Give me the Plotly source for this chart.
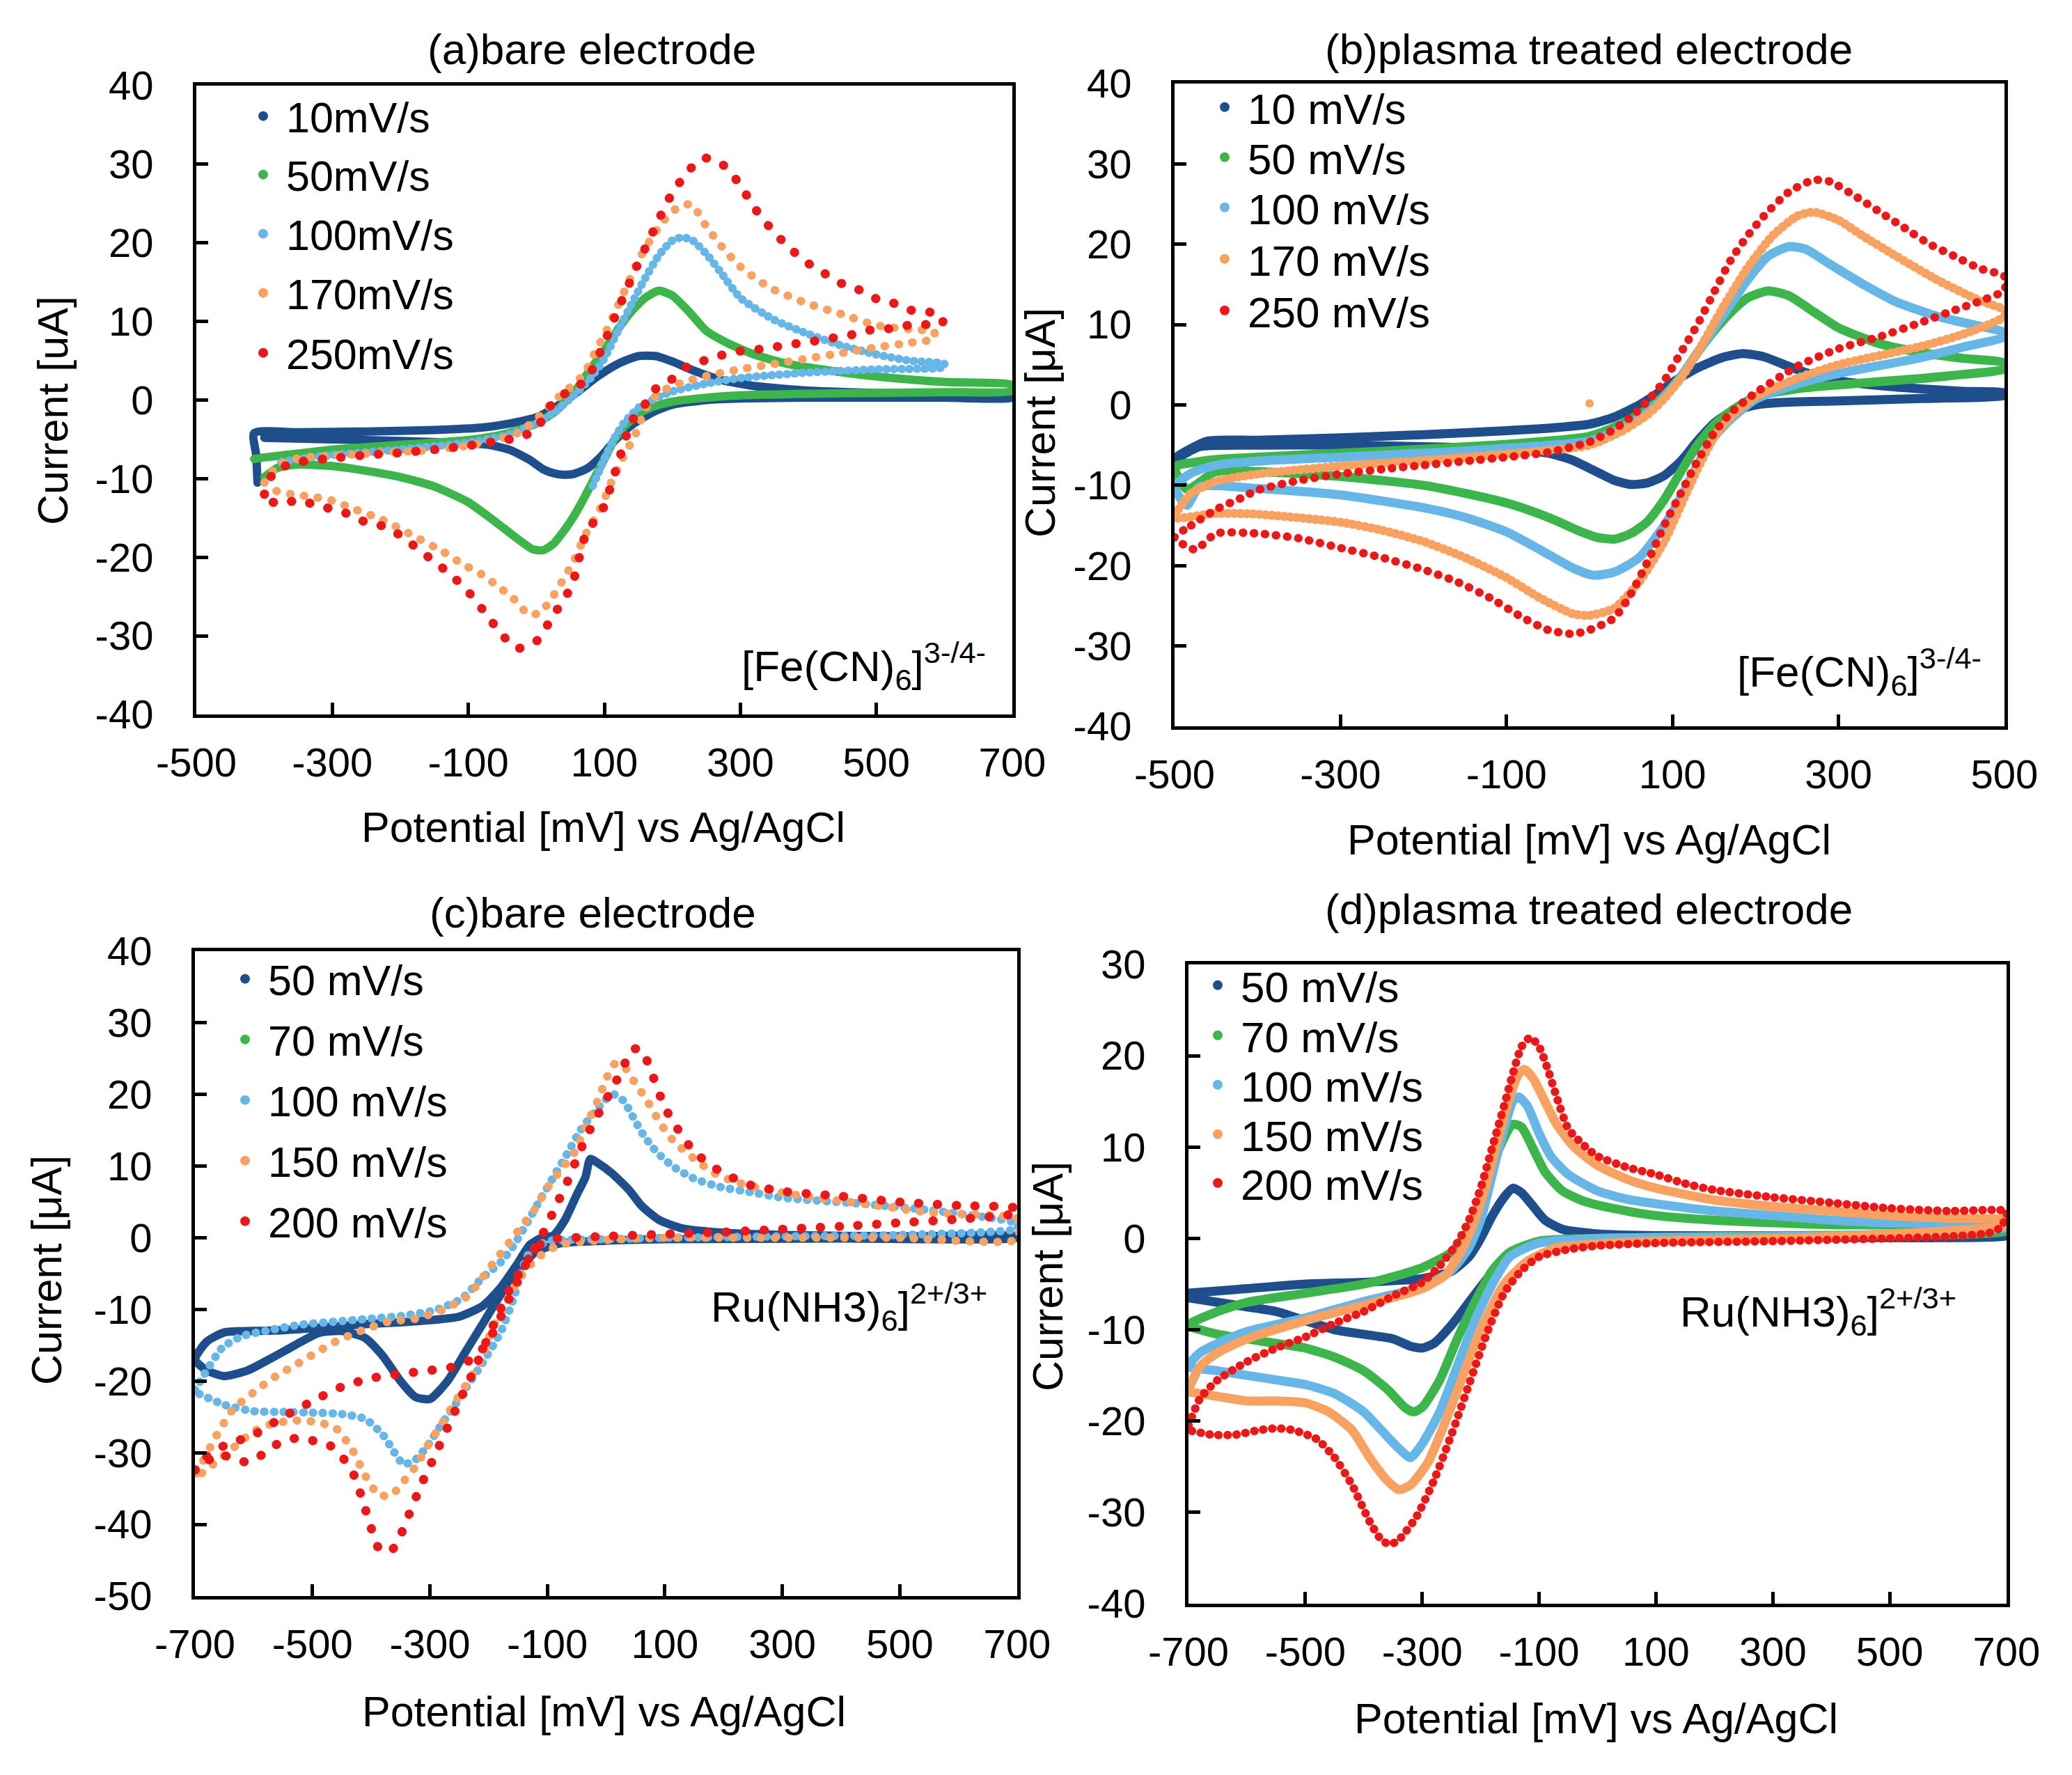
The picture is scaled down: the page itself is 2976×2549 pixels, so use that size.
import plotly.graph_objects as go

W, H = 2976, 2549          # screenshot size
OFF = 8                    # page body margin of the html page
FW, FH = W - 2 * OFF, H - 2 * OFF
FONT = "Liberation Sans, Arial, Helvetica, sans-serif"

# ======================= DATA =======================
# ---- panel (a) bare electrode, [Fe(CN)6]3-/4- ----
a_labels = ["10mV/s", "50mV/s", "100mV/s", "170mV/s", "250mV/s"]
a_xticks = [-500, -300, -100, 100, 300, 500, 700]
a_yticks = [-40, -30, -20, -10, 0, 10, 20, 30, 40]

a10_up_x = [-410, -412, -415, -350, -250, -150, -80, -40, 0, 30, 60, 90, 120, 150, 175, 200, 230, 270, 320, 400, 500, 600, 700]
a10_up_y = [-10.5, -7.0, -4.2, -4.1, -4.0, -3.8, -3.5, -3.0, -2.2, -0.8, 1.0, 3.0, 4.6, 5.6, 5.6, 4.9, 3.8, 2.6, 1.8, 1.2, 0.9, 0.7, 0.6]
a10_dn_x = [700, 600, 500, 400, 300, 250, 200, 170, 140, 115, 95, 75, 55, 40, 25, 10, -10, -40, -70, -100, -200, -300, -400]
a10_dn_y = [0.3, 0.3, 0.3, 0.3, 0.2, 0.0, -0.6, -1.6, -3.2, -5.2, -7.2, -8.7, -9.4, -9.5, -9.3, -8.8, -7.6, -6.3, -5.7, -5.5, -5.2, -5.0, -4.8]

a50_up_x = [-415, -400, -350, -300, -200, -100, -50, 0, 30, 60, 80, 100, 120, 140, 160, 180, 200, 225, 250, 280, 320, 370, 420, 500, 600, 700]
a50_up_y = [-7.5, -7.3, -6.8, -6.3, -5.7, -5.1, -4.4, -3.0, -1.3, 1.5, 4.0, 6.3, 9.0, 11.3, 13.0, 13.9, 13.3, 11.2, 8.8, 7.3, 5.8, 4.6, 3.9, 3.0, 2.3, 1.9]
a50_dn_x = [700, 600, 500, 400, 300, 250, 200, 170, 150, 130, 115, 100, 85, 70, 55, 40, 25, 10, -5, -30, -60, -100, -150, -200, -250, -300, -350, -380, -400]
a50_dn_y = [1.2, 1.0, 0.9, 0.8, 0.6, 0.3, -0.2, -0.9, -1.8, -3.3, -5.0, -7.5, -10.0, -12.5, -14.8, -16.7, -18.3, -19.1, -19.0, -17.5, -15.5, -13.0, -11.0, -9.8, -9.0, -8.4, -8.2, -8.6, -9.8]

a100_up_x = [-375, -350, -300, -200, -100, -50, 0, 30, 60, 80, 100, 120, 140, 160, 180, 200, 215, 230, 250, 270, 300, 350, 400, 450, 500, 550, 600]
a100_up_y = [-7.9, -7.5, -7.0, -6.3, -5.4, -4.6, -3.0, -1.3, 1.0, 2.8, 5.3, 8.8, 12.2, 15.5, 18.4, 20.3, 20.7, 20.3, 18.6, 16.4, 13.0, 10.2, 8.4, 6.9, 5.8, 5.0, 4.6]
a100_dn_x = [600, 500, 400, 300, 250, 200, 170, 150, 130, 115, 100, 90, 80]
a100_dn_y = [4.2, 3.9, 3.5, 2.8, 2.1, 1.1, 0.0, -1.0, -2.8, -4.8, -7.5, -9.5, -11.5]

a170_up_x = [-400, -380, -350, -300, -230, -160, -100, -60, -25, 5, 25, 48, 70, 86, 103, 120, 136, 153, 170, 187, 208, 228, 250, 272, 297, 322, 348, 398, 450, 500, 550, 585]
a170_up_y = [-10.5, -8.3, -7.4, -7.1, -6.7, -6.4, -5.8, -5.1, -4.1, -2.0, -0.2, 1.5, 3.3, 6.0, 8.8, 12.0, 15.1, 18.2, 20.7, 22.8, 24.5, 24.9, 22.1, 19.6, 17.2, 15.5, 14.1, 12.3, 10.9, 9.5, 9.0, 8.7]
a170_dn_x = [585, 550, 500, 450, 400, 350, 305, 263, 229, 204, 180, 162, 145, 128, 110, 94, 73, 56, 39, 22, 5, -12, -33, -58, -80, -110, -135, -180, -227, -270, -300, -330, -360, -385, -400]
a170_dn_y = [7.8, 7.3, 6.7, 6.0, 5.3, 4.6, 4.0, 3.3, 2.6, 1.9, 0.9, -0.9, -4.5, -7.2, -10.5, -13.8, -17.0, -20.3, -22.9, -25.3, -27.1, -27.2, -25.3, -23.6, -22.2, -20.8, -19.4, -17.3, -15.2, -13.8, -12.8, -12.3, -12.0, -11.5, -11.0]

a250_up_x = [-400, -385, -350, -300, -250, -200, -150, -100, -50, -24, 1, 22, 48, 73, 98, 120, 145, 172, 197, 223, 246, 272, 297, 322, 348, 373, 398, 424, 447, 473, 496, 521, 546, 572, 597]
a250_up_y = [-12.0, -9.0, -7.9, -7.4, -7.0, -6.7, -6.3, -5.8, -5.1, -4.8, -3.5, -0.6, 1.2, 2.5, 6.9, 11.5, 16.5, 21.5, 25.9, 29.1, 30.8, 30.1, 27.7, 24.3, 21.5, 19.3, 17.5, 16.1, 14.9, 14.1, 13.0, 12.5, 11.5, 11.3, 10.7]
a250_dn_x = [597, 572, 546, 521, 496, 473, 447, 424, 398, 373, 348, 322, 297, 272, 246, 223, 197, 172, 158, 140, 123, 98, 73, 52, 22, 1, -28, -50, -75, -100, -126, -151, -176, -202, -227, -252, -273, -299, -324, -349, -375, -400]
a250_dn_y = [9.7, 9.6, 9.5, 9.1, 9.0, 8.5, 8.0, 7.8, 7.3, 7.1, 6.7, 6.4, 6.2, 5.7, 5.0, 4.3, 2.5, 1.2, -0.8, -2.7, -7.2, -13.8, -17.0, -23.6, -27.8, -30.6, -31.6, -29.9, -27.1, -24.4, -22.2, -20.5, -18.8, -17.1, -16.0, -15.5, -14.6, -13.9, -13.4, -12.7, -13.2, -12.7]

# ---- panel (b) plasma treated electrode, [Fe(CN)6]3-/4- ----
b_labels = ["10 mV/s", "50 mV/s", "100 mV/s", "170 mV/s", "250 mV/s"]
b_xticks = [-500, -300, -100, 100, 300, 500]
b_yticks = [-40, -30, -20, -10, 0, 10, 20, 30, 40]

b10_up_x = [-500, -495, -460, -400, -300, -200, -100, -50, 0, 30, 60, 80, 100, 130, 160, 185, 210, 240, 270, 300, 350, 400, 450, 500]
b10_up_y = [-6.8, -6.3, -4.5, -4.4, -4.1, -3.7, -3.2, -2.9, -2.4, -1.5, 0.0, 1.3, 2.8, 4.6, 5.9, 6.4, 6.0, 4.8, 3.7, 3.0, 2.4, 2.0, 1.7, 1.5]
b10_dn_x = [500, 400, 300, 230, 200, 170, 150, 130, 110, 90, 70, 50, 30, 10, -20, -50, -100, -200, -300, -400, -470, -500]
b10_dn_y = [1.2, 0.8, 0.5, 0.3, 0.0, -0.9, -2.3, -4.5, -7.0, -8.8, -9.7, -9.9, -9.4, -8.4, -6.9, -6.0, -5.5, -5.2, -5.0, -5.0, -5.2, -6.8]

b50_up_x = [-500, -480, -450, -400, -300, -200, -100, 0, 40, 70, 90, 110, 130, 150, 170, 190, 215, 240, 270, 300, 350, 400, 450, 500]
b50_up_y = [-7.7, -7.2, -6.8, -6.5, -6.0, -5.5, -4.9, -3.9, -2.3, -0.5, 1.2, 3.5, 6.5, 9.2, 11.5, 13.3, 14.2, 13.6, 11.6, 9.6, 7.6, 6.5, 5.8, 5.2]
b50_dn_x = [500, 450, 400, 300, 250, 200, 170, 150, 130, 110, 90, 70, 50, 30, 10, -10, -40, -70, -100, -150, -200, -300, -400, -450, -485, -500]
b50_dn_y = [4.5, 3.8, 3.3, 2.5, 2.0, 1.0, -0.8, -2.5, -5.0, -8.3, -11.8, -14.5, -16.0, -16.7, -16.5, -15.8, -14.4, -13.2, -12.2, -11.0, -10.0, -8.9, -8.3, -8.3, -10.5, -7.7]

b100_up_x = [-500, -480, -450, -400, -300, -200, -100, 0, 40, 70, 90, 110, 130, 160, 190, 215, 240, 260, 290, 330, 370, 420, 470, 500]
b100_up_y = [-10.2, -8.5, -7.5, -7.0, -6.5, -6.0, -5.4, -4.5, -2.8, -0.9, 1.0, 3.5, 6.5, 11.0, 15.5, 18.5, 19.7, 19.4, 17.5, 15.0, 12.8, 11.0, 9.8, 9.0]
b100_dn_x = [500, 450, 400, 300, 250, 200, 170, 150, 130, 110, 90, 60, 30, 5, -20, -60, -100, -150, -200, -300, -400, -470, -485, -500]
b100_dn_y = [8.5, 7.2, 5.9, 3.9, 2.6, 0.7, -1.8, -4.0, -7.5, -11.5, -15.0, -19.0, -20.8, -21.2, -20.3, -18.0, -15.8, -14.0, -12.8, -11.2, -10.4, -10.2, -12.5, -10.2]

b170_up_x = [-500, -480, -450, -400, -300, -200, -100, 0, 40, 70, 90, 110, 130, 160, 190, 220, 250, 270, 300, 330, 370, 420, 470, 500]
b170_up_y = [-14.0, -11.0, -9.5, -8.6, -7.6, -6.9, -6.1, -5.0, -3.2, -1.2, 0.8, 3.3, 6.5, 12.0, 17.0, 21.0, 23.5, 24.0, 23.0, 21.0, 18.5, 15.5, 13.0, 11.8]
b170_dn_x = [500, 450, 400, 300, 250, 200, 170, 150, 130, 110, 90, 60, 30, 0, -20, -60, -100, -150, -200, -250, -300, -400, -450, -500]
b170_dn_y = [11.0, 8.8, 7.3, 5.0, 3.3, 1.0, -1.5, -4.0, -8.0, -12.5, -17.0, -22.0, -25.3, -26.2, -26.0, -24.0, -21.5, -19.0, -17.0, -15.6, -14.6, -13.6, -13.5, -14.0]
b170_stray_x = [0]
b170_stray_y = [0.2]

b250_up_x = [-500, -480, -450, -420, -400, -350, -300, -250, -200, -150, -100, -50, 0, 30, 50, 70, 90, 110, 130, 150, 170, 190, 210, 240, 270, 290, 320, 350, 380, 410, 440, 470, 500]
b250_up_y = [-16.5, -15.0, -13.0, -11.6, -10.6, -9.4, -8.6, -8.0, -7.5, -7.0, -6.5, -5.9, -4.6, -3.0, -1.5, 0.5, 3.0, 6.5, 10.0, 14.0, 18.0, 21.0, 23.5, 26.5, 28.0, 27.8, 26.0, 24.0, 22.0, 20.0, 18.5, 17.0, 16.0]
b250_dn_x = [500, 470, 440, 400, 350, 300, 250, 200, 170, 150, 130, 110, 90, 70, 50, 30, 0, -20, -50, -80, -120, -160, -200, -250, -300, -350, -400, -450, -475, -500]
b250_dn_y = [14.3, 12.9, 11.8, 10.3, 8.5, 7.0, 4.8, 1.5, -1.0, -3.5, -7.0, -11.0, -15.0, -19.5, -23.5, -26.5, -28.0, -28.5, -28.0, -26.5, -24.0, -22.0, -20.5, -19.0, -17.8, -16.6, -16.0, -16.0, -18.0, -16.5]

# ---- panel (c) bare electrode, Ru(NH3)6 2+/3+ ----
c_labels = ["50 mV/s", "70 mV/s", "100 mV/s", "150 mV/s", "200 mV/s"]
c_xticks = [-700, -500, -300, -100, 100, 300, 500, 700]
c_yticks = [-50, -40, -30, -20, -10, 0, 10, 20, 30, 40]

c50_up_x = [-700, -680, -650, -600, -550, -500, -450, -400, -350, -300, -250, -210, -180, -150, -130, -110, -90, -70, -50, -35, -27, -15, 10, 40, 60, 90, 130, 200, 300, 500, 700]
c50_up_y = [-17.0, -14.5, -13.2, -13.0, -12.9, -12.6, -12.3, -12.0, -11.8, -11.5, -11.0, -9.5, -7.0, -3.5, -1.0, 0.0, 0.3, 2.5, 6.0, 8.5, 11.0, 10.5, 9.0, 6.6, 4.5, 2.5, 1.3, 0.7, 0.4, 0.2, 0.2]
c50_dn_x = [700, 400, 100, 0, -80, -120, -150, -180, -210, -240, -270, -300, -325, -350, -380, -410, -450, -490, -530, -570, -610, -650, -680, -700]
c50_dn_y = [0.0, -0.1, -0.2, -0.4, -0.8, -2.0, -4.5, -8.0, -12.0, -16.0, -20.0, -22.5, -22.2, -20.0, -16.5, -14.0, -13.0, -13.3, -15.0, -16.8, -18.5, -19.3, -18.5, -17.0]

# the 70 mV/s series is not visible in the figure (hidden under 100 mV/s)
c70_x = [None]
c70_y = [None]

c100_up_x = [-700, -686, -653, -619, -574, -517, -461, -404, -348, -291, -246, -212, -178, -156, -133, -111, -88, -65, -43, -20, 2, 14, 30, 47, 64, 87, 115, 149, 194, 251, 300, 443, 556, 700]
c100_up_y = [-21.3, -19.3, -15.3, -13.7, -12.9, -12.1, -11.7, -11.3, -10.9, -10.1, -8.5, -5.7, -3.3, -0.9, 2.3, 5.5, 8.7, 11.9, 15.1, 17.5, 19.5, 20.0, 19.1, 16.7, 14.3, 11.9, 9.9, 8.3, 7.1, 6.3, 5.6, 4.7, 3.8, 2.0]
c100_dn_x = [700, 500, 300, 100, 0, -100, -130, -145, -156, -178, -212, -235, -257, -280, -303, -325, -345, -360, -380, -410, -450, -500, -550, -600, -650, -700]
c100_dn_y = [1.3, 0.4, 0.2, 0.0, -0.2, -0.5, -2.0, -4.9, -8.1, -12.9, -17.7, -20.5, -23.3, -26.0, -28.9, -31.0, -31.6, -30.0, -27.5, -25.3, -24.6, -24.4, -24.3, -24.2, -23.3, -21.5]

c150_up_x = [-700, -685, -664, -636, -596, -562, -528, -495, -461, -415, -370, -325, -280, -235, -212, -190, -167, -145, -122, -99, -77, -54, -32, -15, 2, 15, 30, 47, 70, 93, 115, 149, 183, 217, 273, 330, 443, 556, 668, 700]
c150_up_y = [-33.5, -31.0, -27.7, -24.0, -21.3, -19.3, -17.7, -16.1, -14.5, -12.9, -11.7, -11.3, -10.1, -8.1, -5.7, -3.3, -0.9, 1.5, 3.9, 7.1, 9.5, 11.9, 16.0, 19.0, 22.5, 24.3, 24.0, 21.9, 19.1, 15.9, 13.5, 11.1, 9.1, 7.9, 6.7, 5.9, 4.7, 3.5, 3.1, 2.7]
c150_dn_x = [700, 500, 300, 100, 0, -80, -120, -150, -170, -195, -212, -235, -257, -280, -303, -325, -348, -365, -387, -410, -432, -461, -495, -530, -570, -600, -630, -660, -700]
c150_dn_y = [-0.2, 0.0, 0.0, 0.0, -0.3, -1.0, -3.0, -6.0, -9.0, -12.9, -16.9, -20.1, -22.9, -26.0, -28.9, -32.0, -34.3, -35.9, -35.9, -33.2, -29.6, -26.5, -25.7, -25.5, -26.0, -27.0, -29.0, -31.0, -33.5]

c200_up_x = [-700, -680, -650, -600, -550, -500, -450, -400, -350, -300, -260, -230, -205, -185, -165, -145, -125, -105, -85, -65, -45, -25, -5, 15, 30, 45, 60, 80, 100, 125, 150, 190, 240, 300, 400, 500, 600, 700]
c200_up_y = [-32.5, -30.5, -29.0, -27.5, -25.0, -22.8, -20.8, -19.6, -19.0, -18.5, -18.0, -17.0, -15.0, -12.0, -8.5, -5.0, -2.0, 1.0, 4.5, 8.0, 12.0, 15.5, 18.5, 21.5, 24.0, 26.3, 26.3, 22.5, 18.2, 14.8, 12.0, 9.5, 7.5, 6.5, 5.8, 5.0, 4.5, 4.1]
c200_dn_x = [700, 600, 500, 400, 300, 200, 100, 0, -60, -100, -120, -140, -160, -180, -200, -225, -245, -270, -295, -315, -335, -350, -365, -385, -400, -415, -430, -450, -470, -500, -530, -560, -590, -610, -630, -660, -700]
c200_dn_y = [3.5, 2.6, 2.1, 1.6, 1.2, 0.8, 0.5, 0.2, 0.0, -0.3, -1.5, -4.0, -6.5, -10.0, -13.7, -18.5, -22.0, -26.5, -31.0, -34.5, -38.5, -41.5, -43.6, -43.6, -40.5, -36.5, -33.0, -30.5, -29.0, -28.3, -28.0, -28.8, -30.5, -31.3, -31.0, -30.2, -32.5]

# ---- panel (d) plasma treated electrode, Ru(NH3)6 2+/3+ ----
d_labels = ["50 mV/s", "70 mV/s", "100 mV/s", "150 mV/s", "200 mV/s"]
d_xticks = [-700, -500, -300, -100, 100, 300, 500, 700]
d_yticks = [-40, -30, -20, -10, 0, 10, 20, 30]

d50_up_x = [-700, -600, -500, -400, -300, -250, -220, -200, -180, -160, -145, -130, -110, -90, -60, 0, 100, 300, 500, 700]
d50_up_y = [-6.0, -5.5, -5.0, -4.8, -4.4, -3.6, -2.0, 0.0, 2.5, 4.5, 5.5, 5.0, 3.5, 2.0, 1.0, 0.5, 0.3, 0.3, 0.3, 0.5]
d50_dn_x = [700, 400, 100, -50, -100, -130, -160, -190, -220, -250, -280, -300, -320, -350, -400, -450, -500, -550, -600, -650, -700]
d50_dn_y = [0.3, 0.1, 0.0, -0.1, -0.4, -1.0, -2.5, -4.5, -7.0, -9.5, -11.5, -12.0, -11.8, -11.0, -10.5, -10.0, -9.0, -8.0, -7.5, -7.0, -6.5]

d70_up_x = [-700, -650, -600, -500, -400, -350, -300, -250, -220, -200, -180, -160, -145, -130, -110, -90, -60, -20, 50, 100, 200, 400, 700]
d70_up_y = [-9.5, -8.0, -7.0, -6.0, -5.0, -4.2, -3.2, -1.5, 1.0, 4.0, 8.0, 11.0, 12.5, 12.2, 9.8, 7.3, 5.2, 4.0, 3.0, 2.5, 2.0, 1.5, 1.2]
d70_dn_x = [700, 300, 0, -100, -150, -180, -210, -240, -270, -300, -315, -330, -360, -400, -450, -500, -550, -600, -650, -700]
d70_dn_y = [0.8, 0.3, 0.0, -0.3, -1.5, -3.5, -7.0, -11.0, -15.5, -18.5, -19.0, -18.5, -16.5, -14.5, -13.0, -12.0, -11.5, -11.0, -10.5, -9.5]

d100_up_x = [-700, -680, -650, -600, -500, -400, -300, -250, -220, -200, -180, -160, -145, -135, -120, -100, -80, -50, 0, 50, 100, 200, 300, 400, 500, 700]
d100_up_y = [-14.0, -12.5, -11.5, -10.2, -8.7, -6.9, -5.3, -3.5, -1.0, 2.0, 7.0, 12.0, 15.0, 15.5, 14.5, 11.5, 9.0, 7.0, 5.2, 4.3, 3.8, 3.0, 2.5, 2.0, 1.7, 1.5]
d100_dn_x = [700, 400, 0, -100, -150, -180, -210, -240, -270, -300, -320, -340, -370, -400, -450, -500, -550, -600, -650, -700]
d100_dn_y = [1.2, 0.3, 0.0, -0.5, -2.0, -5.0, -9.0, -14.0, -19.0, -22.5, -24.0, -23.0, -21.0, -19.0, -17.0, -16.0, -15.5, -15.0, -14.5, -14.0]

d150_up_x = [-700, -680, -650, -600, -500, -400, -300, -260, -230, -210, -190, -170, -150, -135, -125, -110, -90, -70, -40, 0, 50, 100, 200, 300, 400, 500, 600, 700]
d150_up_y = [-16.5, -14.0, -12.5, -11.0, -9.0, -7.3, -5.5, -4.0, -1.0, 2.0, 6.0, 11.0, 15.5, 18.0, 18.5, 17.5, 15.0, 12.5, 10.0, 8.0, 6.5, 5.5, 4.2, 3.5, 3.0, 2.5, 2.2, 2.0]
d150_dn_x = [700, 500, 300, 100, 0, -70, -120, -160, -200, -230, -260, -290, -320, -340, -360, -390, -420, -460, -500, -550, -600, -650, -700]
d150_dn_y = [1.5, 0.5, 0.0, -0.3, -0.6, -1.0, -2.5, -5.0, -10.0, -15.0, -20.0, -24.5, -27.0, -27.5, -26.5, -24.0, -21.0, -19.0, -18.0, -17.8, -17.8, -17.3, -16.8]

d200_up_x = [-700, -680, -650, -600, -550, -500, -450, -400, -350, -300, -270, -240, -220, -200, -180, -160, -145, -130, -115, -100, -85, -70, -50, -20, 0, 50, 100, 150, 200, 300, 400, 500, 600, 700]
d200_up_y = [-20.5, -17.5, -15.5, -13.5, -12.0, -10.8, -9.3, -8.0, -6.3, -4.8, -3.0, -0.5, 2.0, 5.5, 10.0, 14.5, 18.0, 21.0, 22.0, 21.0, 18.5, 15.5, 12.0, 10.0, 9.0, 7.8, 7.0, 6.0, 5.3, 4.5, 3.9, 3.3, 3.0, 3.0]
d200_dn_x = [700, 690, 670, 600, 500, 300, 100, 0, -50, -100, -130, -160, -190, -220, -250, -280, -310, -340, -355, -370, -390, -420, -450, -480, -520, -550, -580, -620, -660, -700]
d200_dn_y = [2.5, 1.2, 0.6, 0.2, 0.0, -0.3, -0.5, -0.8, -1.2, -2.0, -3.5, -6.0, -10.5, -16.0, -21.5, -26.5, -30.5, -33.0, -33.5, -33.0, -31.0, -27.0, -24.0, -22.0, -21.0, -20.8, -21.0, -21.5, -21.5, -21.0]

# ======================= STYLE / LAYOUT =======================
COLORS = ["#1f4e8c", "#3cb54a", "#66b6e8", "#f9a160", "#ee1717"]


def dots(spacing):
    # round-capped near-zero dashes -> round dots 'spacing' px apart
    return "0.5px,%gpx" % (spacing - 0.5)


panels = [
    dict(ax="", labels=a_labels,
         series=[(a10_up_x + a10_dn_x, a10_up_y + a10_dn_y),
                 (a50_up_x + a50_dn_x, a50_up_y + a50_dn_y),
                 (a100_up_x + a100_dn_x, a100_up_y + a100_dn_y),
                 (a170_up_x + a170_dn_x, a170_up_y + a170_dn_y),
                 (a250_up_x + a250_dn_x, a250_up_y + a250_dn_y)],
         styles=[(12, "solid"), (12, "solid"), (12, dots(11)), (12, dots(20)), (13, dots(27))],
         box=(282, 123, 1454, 1026), xr=[-500, 700], yr=[-40, 40], xt=a_xticks, yt=a_yticks,
         leg=dict(mx=378, rows=[167, 251, 336, 421, 507], fs=61)),
    dict(ax="2", labels=b_labels,
         series=[(b10_up_x + b10_dn_x, b10_up_y + b10_dn_y),
                 (b50_up_x + b50_dn_x, b50_up_y + b50_dn_y),
                 (b100_up_x + b100_dn_x, b100_up_y + b100_dn_y),
                 (b170_up_x + b170_dn_x, b170_up_y + b170_dn_y),
                 (b250_up_x + b250_dn_x, b250_up_y + b250_dn_y)],
         styles=[(13, "solid"), (13, "solid"), (13, "solid"), (13, dots(9)), (12, dots(16))],
         box=(1687, 120, 2879, 1043), xr=[-500, 500], yr=[-40, 40], xt=b_xticks, yt=b_yticks,
         leg=dict(mx=1759, rows=[154, 226, 298, 372, 446], fs=62)),
    dict(ax="3", labels=c_labels,
         series=[(c50_up_x + c50_dn_x, c50_up_y + c50_dn_y),
                 (c70_x, c70_y),
                 (c100_up_x + c100_dn_x, c100_up_y + c100_dn_y),
                 (c150_up_x + c150_dn_x, c150_up_y + c150_dn_y),
                 (c200_up_x + c200_dn_x, c200_up_y + c200_dn_y)],
         styles=[(12, "solid"), (12, "solid"), (12, dots(14)), (12, dots(20)), (13, dots(27))],
         box=(280, 1366, 1461, 2292), xr=[-700, 700], yr=[-50, 40], xt=c_xticks, yt=c_yticks,
         leg=dict(mx=352, rows=[1406, 1493, 1580, 1667, 1754], fs=61)),
    dict(ax="4", labels=d_labels,
         series=[(d50_up_x + d50_dn_x, d50_up_y + d50_dn_y),
                 (d70_up_x + d70_dn_x, d70_up_y + d70_dn_y),
                 (d100_up_x + d100_dn_x, d100_up_y + d100_dn_y),
                 (d150_up_x + d150_dn_x, d150_up_y + d150_dn_y),
                 (d200_up_x + d200_dn_x, d200_up_y + d200_dn_y)],
         styles=[(13, "solid"), (13, "solid"), (13, "solid"), (13, "solid"), (12, dots(13))],
         box=(1707, 1385, 2882, 2303), xr=[-700, 700], yr=[-40, 30], xt=d_xticks, yt=d_yticks,
         leg=dict(mx=1749, rows=[1415, 1487, 1558, 1629, 1699], fs=62)),
]


def PX(x):
    return (x - OFF) / FW


def PY(y):
    return 1 - (y - OFF) / FH


fig = go.Figure()
layout = dict(width=FW, height=FH, autosize=False,
              margin=dict(l=0, r=0, t=0, b=0, pad=0, autoexpand=False),
              paper_bgcolor="white", plot_bgcolor="white", showlegend=True,
              font=dict(family=FONT, size=58, color="black"))

ITEMW = 56
leg_k = 0
for p in panels:
    xa, ya = "x" + p["ax"], "y" + p["ax"]
    # data traces (drawn in order: slowest scan rate first, fastest on top)
    for i, ((xs, ys), (lw, dash)) in enumerate(zip(p["series"], p["styles"])):
        fig.add_trace(go.Scatter(x=xs, y=ys, mode="lines", xaxis=xa, yaxis=ya,
                                 line=dict(color=COLORS[i], width=lw, dash=dash,
                                           shape="spline", smoothing=0.6),
                                 showlegend=False, hoverinfo="skip"))
        if p["ax"] == "2" and i == 3:
            fig.add_trace(go.Scatter(x=b170_stray_x, y=b170_stray_y, mode="markers",
                                     xaxis=xa, yaxis=ya, showlegend=False, hoverinfo="skip",
                                     marker=dict(color=COLORS[i], size=12)))
    # legend entries (one legend per row to match the original spacing)
    lg = p["leg"]
    for i, lab in enumerate(p["labels"]):
        leg_k += 1
        key = "legend" if leg_k == 1 else "legend%d" % leg_k
        fig.add_trace(go.Scatter(x=[None], y=[None], mode="markers", name=lab,
                                 xaxis=xa, yaxis=ya, legend=key,
                                 marker=dict(color=COLORS[i], size=14)))
        layout[key] = dict(x=PX(lg["mx"] - (ITEMW / 2 + 5)), xanchor="left",
                           y=PY(lg["rows"][i]), yanchor="middle",
                           bgcolor="rgba(0,0,0,0)", borderwidth=0, itemwidth=ITEMW,
                           font=dict(family=FONT, size=lg["fs"], color="black"),
                           itemclick=False, itemdoubleclick=False)
    x0, y0, x1, y1 = p["box"]
    axcommon = dict(showline=True, linecolor="black", linewidth=5, mirror=True,
                    ticks="inside", ticklen=17, tickwidth=5, tickcolor="black",
                    showgrid=False, zeroline=False, automargin=False,
                    tickfont=dict(family=FONT, size=58, color="black"))
    layout["xaxis" + p["ax"]] = dict(axcommon, domain=[PX(x0), PX(x1)], range=p["xr"],
                                     anchor="y" + p["ax"], tickmode="array",
                                     tickvals=p["xt"], ticktext=[str(v) for v in p["xt"]],
                                     ticklabelstandoff=14)
    layout["yaxis" + p["ax"]] = dict(axcommon, domain=[PY(y1), PY(y0)], range=p["yr"],
                                     anchor="x" + p["ax"], tickmode="array",
                                     tickvals=p["yt"], ticktext=[str(v) for v in p["yt"]],
                                     ticklabelstandoff=45)


def ann(text, x, y, size, xanchor="center", angle=0):
    return dict(text=text, x=PX(x), y=PY(y), xref="paper", yref="paper", showarrow=False,
                xanchor=xanchor, yanchor="middle", textangle=angle,
                font=dict(family=FONT, size=size, color="black"))


XT = "Potential [mV] vs Ag/AgCl"
FE = "[Fe(CN)<sub>6</sub>]<sup>3-/4-</sup>"
RU = "Ru(NH3)<sub>6</sub>]<sup>2+/3+</sup>"
layout["annotations"] = [
    ann("(a)bare electrode", 850, 70, 62),
    ann("(b)plasma treated electrode", 2282, 70, 62),
    ann("(c)bare electrode", 851, 1310, 62),
    ann("(d)plasma treated electrode", 2282, 1306, 62),
    ann(XT, 866, 1188, 61), ann(XT, 2282, 1206, 61),
    ann(XT, 867, 2458, 61), ann(XT, 2292, 2468, 61),
    ann("Current [uA]", 76, 590, 61, angle=-90),
    ann("Current [μA]", 1494, 607, 61, angle=-90),
    ann("Current [μA]", 67, 1824, 61, angle=-90),
    ann("Current [μA]", 1505, 1833, 61, angle=-90),
    ann(FE, 1418, 957, 62, xanchor="right"),
    ann(FE, 2848, 965, 62, xanchor="right"),
    ann(RU, 1420, 1876, 62, xanchor="right"),
    ann(RU, 2812, 1883, 62, xanchor="right"),
]

fig.update_layout(**layout)

ROUND_CAPS = """
var gd = document.getElementById('{plot_id}');
gd.querySelectorAll('.scatterlayer path.js-line').forEach(function(p){
    p.style.strokeLinecap = 'round';
    p.style.strokeLinejoin = 'round';
});
"""
fig.write_html("out.html", post_script=ROUND_CAPS)
